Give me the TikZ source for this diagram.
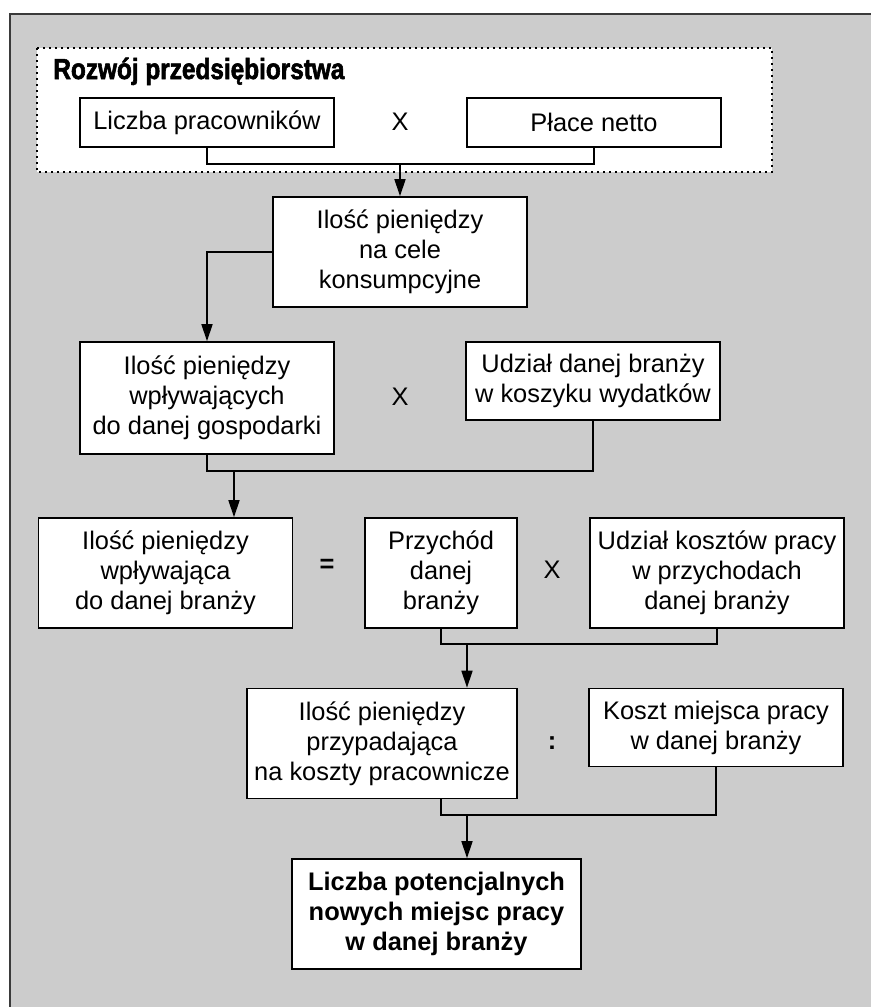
\documentclass[tikz,border=0pt]{standalone}
\usepackage{fontspec}
\setmainfont{Liberation Sans}
\newfontfamily\titlefont{Liberation Sans}[FakeStretch=0.84,FakeBold=2]
\usetikzlibrary{arrows.meta}
\usetikzlibrary{calc}

\definecolor{panelgray}{HTML}{CCCCCC}
\definecolor{framegray}{HTML}{3A3A3A}

\tikzset{
  box/.style={draw,fill=white,line width=0.8pt,align=center,inner sep=0pt,
    minimum width=127pt,font=\fontsize{12.7pt}{15pt}\selectfont},
  onebox/.style={box,minimum height=24.5pt},
  twobox/.style={box,minimum height=39pt},
  threebox/.style={box,minimum height=55pt},
  op/.style={font=\fontsize{12.7pt}{15pt}\selectfont},
  boldop/.style={font=\fontsize{12.7pt}{15pt}\selectfont\bfseries},
  link/.style={line width=0.8pt},
  arrow/.style={link,-{Triangle[length=8.5pt,width=5.5pt]}}
}

\begin{document}
\begin{tikzpicture}[x=0.5pt,y=-0.5pt]

  \useasboundingbox (0,0) rectangle (871,1007);
  \clip (0,0) rectangle (871,1007);
  \fill[panelgray] (10,14) rectangle (900,1040);
  \draw[framegray,line width=0.8pt] (10,1040) -- (10,14) -- (900,14);

  % enterprise group
  \draw[fill=white,line width=0.8pt,dash pattern=on 1pt off 2pt] (37,48) rectangle (772,172);
  \node [anchor=base west,inner sep=0pt,font={\titlefont\bfseries\fontsize{14.5pt}{16pt}\selectfont}]
    (title) at (53,79) {Rozwój przedsiębiorstwa};

  \node [onebox] (workers) at (207,122.5) {Liczba pracowników};
  \node [op] (times1) at (400,122) {X};
  \node [onebox] (wages) at (594,122.5) {Płace netto};

  \node [threebox] (consumer) at (400,252) {Ilość pieniędzy\\na cele\\konsumpcyjne};

  \node [threebox,minimum height=56pt] (economy) at (207,398) {Ilość pieniędzy\\wpływających\\do danej gospodarki};
  \node [op] (times2) at (400,397) {X};
  \node [twobox] (basket) at (593,381) {Udział danej branży\\w koszyku wydatków};

  \node [threebox] (inflow) at (165.5,573) {Ilość pieniędzy\\wpływająca\\do danej branży};
  \node [boldop] (equals) at (327,566) {=};
  \node [threebox,minimum width=76pt] (revenue) at (441,573) {Przychód\\danej\\branży};
  \node [op] (times3) at (552,570) {X};
  \node [threebox] (labshare) at (717,573) {Udział kosztów pracy\\w przychodach\\danej branży};

  \node [threebox,minimum width=135pt] (labmoney) at (382,743.5) {Ilość pieniędzy\\przypadająca\\na koszty pracownicze};
  \node [boldop] (divide) at (552,743) {:};
  \node [twobox] (jobcost) at (716,727.5) {Koszt miejsca pracy\\w danej branży};

  \node [threebox,minimum width=144.5pt,font=\fontsize{12.7pt}{15pt}\selectfont\bfseries]
    (newjobs) at (436.5,914) {Liczba potencjalnych\\nowych miejsc pracy\\w danej branży};

  % connectors
  \coordinate (join1) at (400,164);
  \coordinate (join2) at (234,471);
  \coordinate (join3) at (467,644);
  \coordinate (join4) at (467,815);

  \draw [link] (workers.south) |- (join1) -| (wages.south);
  \draw [arrow] (join1) -- (consumer.north);
  \draw [arrow] (consumer.west) -| (economy.north);
  \draw [link] (economy.south) |- (join2) -| (basket.south);
  \draw [arrow] (join2) -- (join2 |- inflow.north);
  \draw [link] (revenue.south) |- (join3) -| (labshare.south);
  \draw [arrow] (join3) -- (join3 |- labmoney.north);
  \draw [link] (labmoney.south -| revenue.south) |- (join4) -| (jobcost.south);
  \draw [arrow] (join4) -- (join4 |- newjobs.north);

\end{tikzpicture}
\end{document}
